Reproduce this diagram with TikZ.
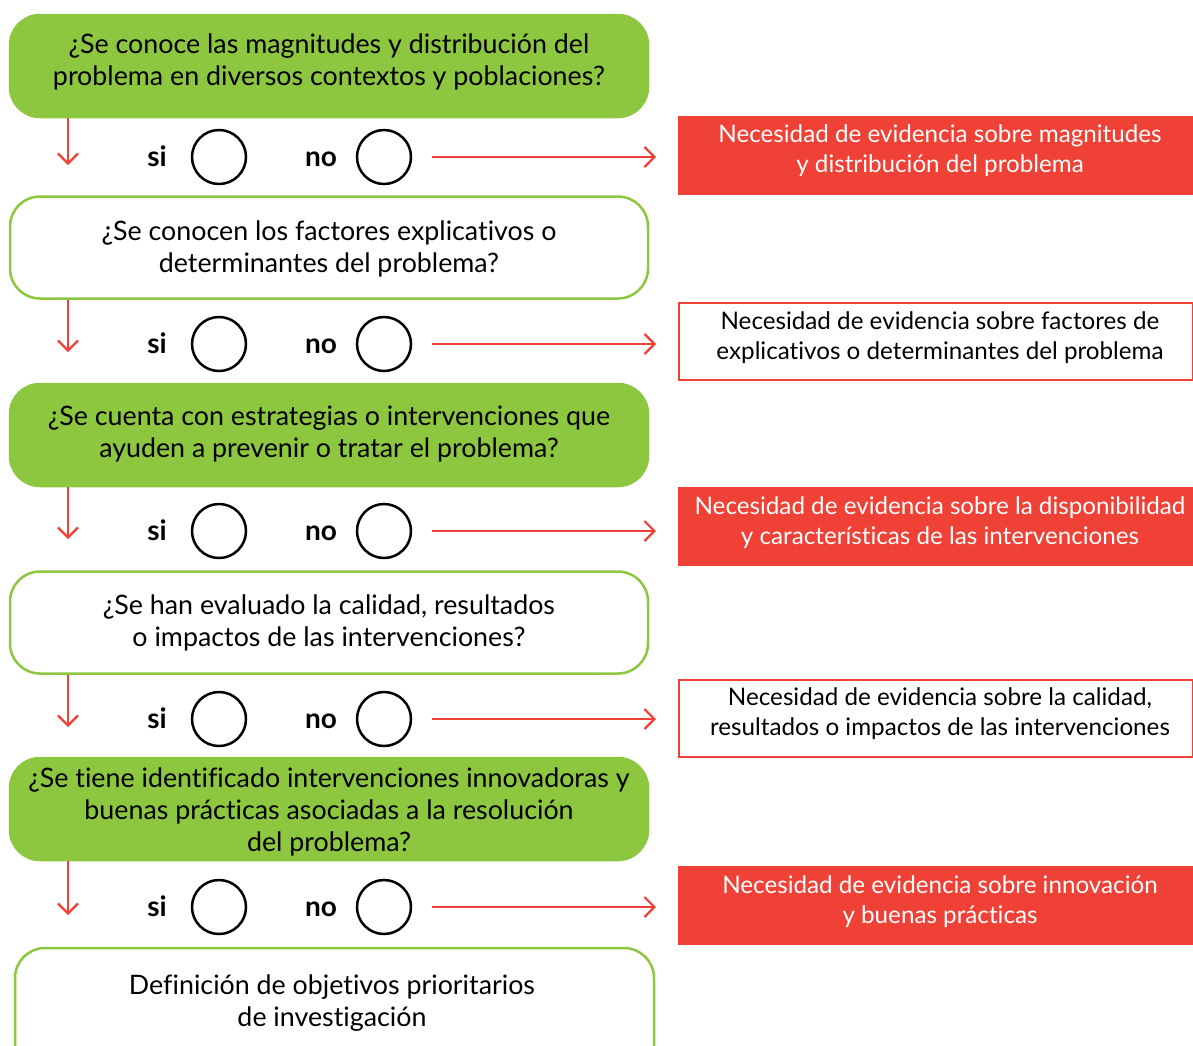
\documentclass[tikz,border=0pt]{standalone}
\usepackage{fontspec}
\setmainfont{Lato}[Ligatures={NoCommon,NoContextual}]
\usetikzlibrary{arrows.meta}
\definecolor{lgreen}{HTML}{8DC63F}
\definecolor{lred}{HTML}{EF4136}
\tikzset{
  qfill/.style={rectangle, rounded corners=30pt, fill=lgreen, draw=lgreen, line width=2.5pt, minimum width=638pt, minimum height=102pt, inner sep=0pt},
  qline/.style={rectangle, rounded corners=30pt, fill=white, draw=lgreen, line width=2.5pt, minimum width=638pt, minimum height=102pt, inner sep=0pt},
  qtext/.style={align=center, font=\fontsize{26.8}{32}\selectfont, inner sep=0pt},
  rfill/.style={rectangle, fill=lred, draw=lred, line width=2pt, minimum width=514pt, minimum height=77pt, inner sep=0pt},
  rline/.style={rectangle, fill=white, draw=lred, line width=2pt, minimum width=514pt, minimum height=77pt, inner sep=0pt},
  rtext/.style={align=center, font=\fontsize{24.2}{30}\selectfont, inner sep=0pt},
  ring/.style={circle, draw=black, line width=2.5pt, minimum size=54pt, inner sep=0pt},
  yn/.style={font=\bfseries\fontsize{28}{30}\selectfont, inner sep=0pt, anchor=base},
  arr/.style={draw=lred, line width=2.2pt, -{Straight Barb[length=10pt,width=20pt,line width=2.2pt]}},
}
\begin{document}
\begin{tikzpicture}[x=1pt,y=-1pt]
\useasboundingbox (0,0) rectangle (1193,1045);
% question boxes
\node[qfill] (q1) at (329,66) {};
\node[qtext] at (329,62) {¿Se conoce las magnitudes y distribución del\\problema en diversos contextos y poblaciones?};
\node[qline] (q2) at (329,247.5) {};
\node[qtext] at (329,249) {¿Se conocen los factores explicativos o\\determinantes del problema?};
\node[qfill] (q3) at (329,435) {};
\node[qtext] at (329,434) {¿Se cuenta con estrategias o intervenciones que\\ayuden a prevenir o tratar el problema?};
\node[qline] (q4) at (329,622.5) {};
\node[qtext] at (329,623) {¿Se han evaluado la calidad, resultados\\o impactos de las intervenciones?};
\node[qfill] (q5) at (329,809) {};
\node[qtext] at (329,812) {¿Se tiene identificado intervenciones innovadoras y\\buenas prácticas asociadas a la resolución\\del problema?};
\node[qline, minimum width=639pt, minimum height=130pt] (q6) at (334.5,1013) {};
\node[qtext] at (332,1003) {Definición de objetivos prioritarios\\de investigación};
% need boxes
\node[rfill] (n1) at (936,155.5) {};
\node[rtext, text=white] at (940,151) {Necesidad de evidencia sobre magnitudes\\y distribución del problema};
\node[rline] (n2) at (936,341.5) {};
\node[rtext] at (940,338) {Necesidad de evidencia sobre factores de\\explicativos o determinantes del problema};
\node[rfill] (n3) at (936,526) {};
\node[rtext, text=white] at (940,523) {Necesidad de evidencia sobre la disponibilidad\\y características de las intervenciones};
\node[rline] (n4) at (936,718.5) {};
\node[rtext] at (940,714) {Necesidad de evidencia sobre la calidad,\\resultados o impactos de las intervenciones};
\node[rfill] (n5) at (936,905) {};
\node[rtext, text=white] at (940,902) {Necesidad de evidencia sobre innovación\\y buenas prácticas};
% si/no rows
\foreach \i/\y in {1/157,2/344,3/531,4/719,5/907}{
  \node[yn] (si\i) at (157,\y+9) {si};
  \node[ring] (cs\i) at (219,\y) {};
  \node[yn] (no\i) at (321,\y+9) {no};
  \node[ring] (cn\i) at (384,\y) {};
  \coordinate (s\i) at (432,\y);
  \coordinate (d\i) at (68,\y+8);
}
\foreach \i in {1,...,5}{
  \draw[arr] (s\i) -- ([xshift=-22pt]s\i -| n\i.west);
}
\draw[arr] (q1.south -| d1) -- (d1);
\draw[arr] (q2.south -| d2) -- (d2);
\draw[arr] (q3.south -| d3) -- (d3);
\draw[arr] (q4.south -| d4) -- (d4);
\draw[arr] (q5.south -| d5) -- (d5);
\end{tikzpicture}
\end{document}
